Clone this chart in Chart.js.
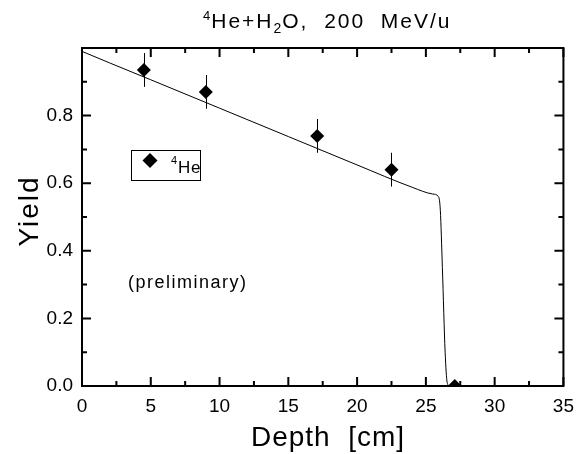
<html>
  <head>
    <script src="https://cdn.jsdelivr.net/npm/chart.js@4/dist/chart.umd.min.js"></script>
    <style>
      body {
        margin: 0;
        background: #fff;
      }
      #wrap {
        width: 583px;
        height: 454px;
      }
    </style>
  </head>
  <body>
    <div id="wrap"><canvas id="yield_chart"></canvas></div>
    <script>
      // model curve
      const curve_depth = [0, 2, 5, 10, 15, 20, 24, 25.5, 25.9, 26.05, 26.2, 26.4, 26.55, 26.7];
      const curve_yield = [0.99, 0.956, 0.906, 0.822, 0.738, 0.654, 0.588, 0.568, 0.561, 0.52, 0.35, 0.1, 0.01, 0];

      // measured 4He points
      const meas_depth = [4.5, 9.0, 17.1, 22.5, 27.1];
      const meas_yield = [0.935, 0.87, 0.74, 0.64, 0.0];
      const meas_err = [0.05, 0.05, 0.05, 0.05, 0.0];

      const x_ticks = [0, 5, 10, 15, 20, 25, 30, 35];
      const y_ticks = [0.0, 0.2, 0.4, 0.6, 0.8];

      const font_name = "'Liberation Sans', Arial, sans-serif";

      const to_points = (xs, ys) => xs.map((x, i) => ({ x: x, y: ys[i] }));

      // draws text with letter spacing, returns end x
      const spaced = (ctx, txt, x, y, size, spacing) => {
        ctx.font = `${size}px ${font_name}`;
        ctx.letterSpacing = spacing + "px";
        ctx.fillText(txt, x, y);
        return x + ctx.measureText(txt).width;
      };

      const frame_plugin = {
        id: "frame",
        afterDatasetsDraw: (chart) => {
          const ctx = chart.ctx;
          const a = chart.chartArea;
          const xs = chart.scales.x;
          const ys = chart.scales.y;
          ctx.save();
          ctx.strokeStyle = "#000";

          // error bars
          ctx.lineWidth = 1;
          meas_depth.forEach((d, i) => {
            if (!meas_err[i]) return;
            const px = Math.round(xs.getPixelForValue(d)) + 0.5;
            ctx.beginPath();
            ctx.moveTo(px, ys.getPixelForValue(meas_yield[i] - meas_err[i]));
            ctx.lineTo(px, ys.getPixelForValue(meas_yield[i] + meas_err[i]));
            ctx.stroke();
          });

          // inward ticks on all four sides
          ctx.lineWidth = 2;
          const major = 9;
          const minor = 5;
          for (let v = 0; v <= 35; v += 2.5) {
            const len = v % 5 === 0 ? major : minor;
            const px = xs.getPixelForValue(v);
            ctx.beginPath();
            ctx.moveTo(px, a.bottom);
            ctx.lineTo(px, a.bottom - len);
            ctx.moveTo(px, a.top);
            ctx.lineTo(px, a.top + len);
            ctx.stroke();
          }
          for (let k = 0; k <= 10; k++) {
            const len = k % 2 === 0 ? major : minor;
            const py = ys.getPixelForValue(k / 10);
            ctx.beginPath();
            ctx.moveTo(a.left, py);
            ctx.lineTo(a.left + len, py);
            ctx.moveTo(a.right, py);
            ctx.lineTo(a.right - len, py);
            ctx.stroke();
          }
          ctx.strokeRect(a.left, a.top, a.right - a.left, a.bottom - a.top);

          // legend box
          ctx.lineWidth = 1;
          ctx.strokeRect(131.5, 150.5, 69, 30);
          ctx.fillStyle = "#000";
          ctx.beginPath();
          ctx.moveTo(150, 153);
          ctx.lineTo(157.5, 160.5);
          ctx.lineTo(150, 168);
          ctx.lineTo(142.5, 160.5);
          ctx.closePath();
          ctx.fill();
          ctx.textBaseline = "alphabetic";
          ctx.textAlign = "left";
          let lx = spaced(ctx, "4", 171, 164, 11, 0);
          spaced(ctx, "He", lx + 1, 173, 17, 0.5);

          // annotation
          spaced(ctx, "(preliminary)", 128, 288, 18, 1.5);

          // title
          const ty = 28;
          let tx = 203;
          tx = spaced(ctx, "4", tx, ty - 8, 13, 0);
          tx = spaced(ctx, "He+H", tx + 1, ty, 21, 2);
          tx = spaced(ctx, "2", tx, ty + 5, 14, 0);
          tx = spaced(ctx, "O,  200  MeV/u", tx + 1, ty, 21, 2);

          // axis titles
          ctx.textAlign = "center";
          spaced(ctx, "Depth  [cm]", 328, 446, 28, 1);
          ctx.translate(38, 211);
          ctx.rotate(-Math.PI / 2);
          spaced(ctx, "Yield", 0, 0, 28, 2);
          ctx.restore();
        },
      };

      const cfg = {
        type: "scatter",
        data: {
          datasets: [
            {
              label: "model",
              data: to_points(curve_depth, curve_yield),
              showLine: true,
              borderColor: "#000",
              borderWidth: 1,
              pointRadius: 0,
              cubicInterpolationMode: "monotone",
            },
            {
              label: "4He",
              data: to_points(meas_depth, meas_yield),
              pointStyle: "rectRot",
              pointRadius: 7,
              pointBackgroundColor: "#000",
              pointBorderColor: "#000",
              pointBorderWidth: 0,
              clip: 0,
            },
          ],
        },
        options: {
          responsive: true,
          maintainAspectRatio: false,
          animation: false,
          layout: { padding: { top: 48, right: 18, left: 0, bottom: 0 } },
          plugins: {
            legend: { display: false },
            tooltip: { enabled: false },
          },
          scales: {
            x: {
              type: "linear",
              min: 0,
              max: 35,
              afterFit: (s) => {
                s.height = 68;
              },
              afterBuildTicks: (s) => {
                s.ticks = x_ticks.map((v) => ({ value: v }));
              },
              grid: { display: false, drawTicks: false },
              border: { display: false },
              ticks: {
                color: "#000",
                padding: 9,
                maxRotation: 0,
                font: { family: font_name, size: 19 },
              },
            },
            y: {
              type: "linear",
              min: 0,
              max: 1,
              afterFit: (s) => {
                s.width = 82;
              },
              afterBuildTicks: (s) => {
                s.ticks = y_ticks.map((v) => ({ value: v }));
              },
              grid: { display: false, drawTicks: false },
              border: { display: false },
              ticks: {
                color: "#000",
                padding: 9,
                font: { family: font_name, size: 19 },
                callback: (v) => Number(v).toFixed(1),
              },
            },
          },
        },
        plugins: [frame_plugin],
      };

      new Chart(document.getElementById("yield_chart"), cfg);
    </script>
  </body>
</html>
